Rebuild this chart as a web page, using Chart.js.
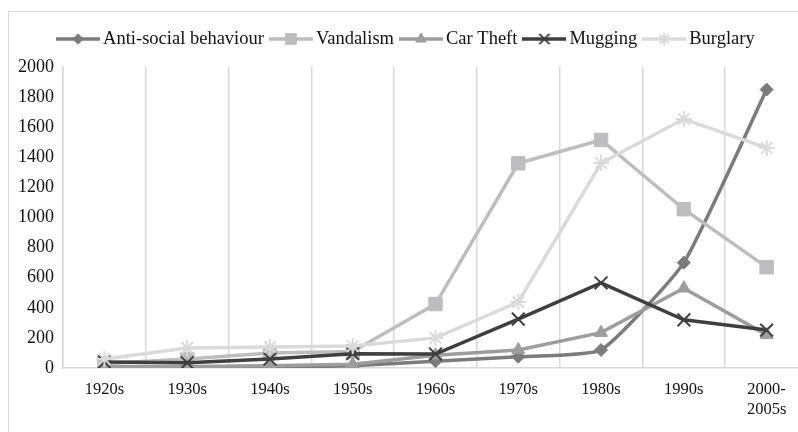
<!DOCTYPE html>
<html>
<head>
<meta charset="utf-8">
<script src="https://cdn.jsdelivr.net/npm/chart.js@4/dist/chart.umd.min.js"></script>
<style>
  html, body { margin: 0; padding: 0; background: #fff; overflow: hidden; width: 798px; height: 432px; }
  #frame { position: absolute; left: 8px; top: 11px; width: 840px; height: 440px; border: 1px solid #d9d9d9; }
  #box { position: absolute; left: 9px; top: 12px; width: 830px; height: 430px; }
</style>
</head>
<body>
<div id="frame"></div>
<div id="box"><canvas id="myChart"></canvas></div>
<script>
const categories = ['1920s', '1930s', '1940s', '1950s', '1960s', '1970s', '1980s', '1990s', ['2000-', '2005s']];
const seriesNames = ['Anti-social behaviour', 'Vandalism', 'Car Theft', 'Mugging', 'Burglary'];
const antiSocial = [5, 5, 5, 15, 45, 75, 120, 700, 1850];
const vandalism = [30, 60, 100, 110, 425, 1360, 1515, 1055, 670];
const carTheft = [10, 10, 15, 25, 85, 120, 235, 530, 220];
const mugging = [40, 35, 60, 95, 93, 325, 565, 320, 252];
const burglary = [60, 133, 140, 146, 200, 438, 1362, 1654, 1462];
const yMin = 0;
const yMax = 2000;
const yStep = 200;

const seriesValues = [antiSocial, vandalism, carTheft, mugging, burglary];

// look of each series (excel greyscale style)
const looks = [
  { color: '#7b7b7b', point: 'rectRot', radius: 6.5, markerLine: 1, tension: 0.15 },
  { color: '#bdbdc0', point: 'rect', radius: 9.5, markerLine: 1, tension: 0 },
  { color: '#9d9d9d', point: 'triangle', radius: 7.5, markerLine: 1, tension: 0 },
  { color: '#3f3f3f', point: 'crossRot', radius: 9, markerLine: 2, tension: 0 },
  { color: '#dadada', point: 'star', radius: 8, markerLine: 2, tension: 0 }
];

const legendFont = { family: 'Liberation Serif', size: 18.5 };
const yFont = { family: 'Liberation Serif', size: 18 };
const xFont = { family: 'Liberation Serif', size: 16.5 };

function legendIcon(look) {
  const c = document.createElement('canvas');
  c.width = 44;
  c.height = 20;
  const ctx = c.getContext('2d');
  ctx.strokeStyle = look.color;
  ctx.fillStyle = look.color;
  ctx.lineWidth = 3.5;
  ctx.beginPath();
  ctx.moveTo(0, 10);
  ctx.lineTo(44, 10);
  ctx.stroke();
  ctx.lineWidth = look.markerLine;
  Chart.helpers.drawPoint(ctx, {
    pointStyle: look.point,
    radius: look.radius * 0.8,
    rotation: 0,
    borderWidth: look.markerLine
  }, 22, 10);
  return c;
}

// extra room under the legend
const legendGap = {
  id: 'legendGap',
  beforeLayout(chart) {
    const lg = chart.legend;
    if (lg && !lg.patched) {
      const fit = lg.fit;
      lg.fit = function () {
        fit.call(this);
        this.height += 8.75;
      };
      lg.patched = true;
    }
  }
};

function renderGraph() {
  const icons = looks.map(legendIcon);

  const datasets = seriesNames.map((name, i) => ({
    label: name,
    data: seriesValues[i],
    borderColor: looks[i].color,
    backgroundColor: looks[i].color,
    borderWidth: 3.5,
    tension: looks[i].tension,
    pointStyle: looks[i].point,
    pointRadius: looks[i].radius,
    pointBorderWidth: looks[i].markerLine,
    pointBackgroundColor: looks[i].color,
    pointBorderColor: looks[i].color,
    order: seriesNames.length - i
  }));

  const config = {
    type: 'line',
    data: { labels: categories, datasets: datasets },
    options: {
      responsive: true,
      maintainAspectRatio: false,
      animation: false,
      layout: { padding: { left: 0, right: 31, top: 6.5, bottom: 0 } },
      plugins: {
        tooltip: { enabled: false },
        legend: {
          position: 'top',
          labels: {
            usePointStyle: true,
            pointStyleWidth: 31.5,
            padding: 11.25,
            color: '#111',
            font: legendFont,
            generateLabels: (chart) => chart.data.datasets.map((ds, i) => ({
              text: ds.label,
              pointStyle: icons[i],
              fillStyle: ds.borderColor,
              strokeStyle: ds.borderColor,
              lineWidth: 0,
              hidden: false,
              datasetIndex: i,
              fontColor: '#111'
            }))
          }
        }
      },
      scales: {
        x: {
          offset: true,
          grid: { display: true, offset: true, color: '#d9d9d9', lineWidth: 1.5, drawTicks: false },
          border: { display: true, color: '#d9d9d9', width: 1.5 },
          ticks: { color: '#111', font: xFont, padding: 12, maxRotation: 0, autoSkip: false },
          afterFit: (scale) => { scale.height = 74; }
        },
        y: {
          min: yMin,
          max: yMax,
          grid: { display: false, drawTicks: false },
          border: { display: true, color: '#d9d9d9', width: 1.5 },
          ticks: { stepSize: yStep, color: '#111', font: yFont, padding: 9, callback: (v) => String(v) },
          afterFit: (scale) => { scale.width = 54; }
        }
      }
    },
    plugins: [legendGap]
  };

  new Chart(document.getElementById('myChart'), config);
}

document.fonts.load('17px "Liberation Serif"').then(renderGraph, renderGraph);
</script>
</body>
</html>
